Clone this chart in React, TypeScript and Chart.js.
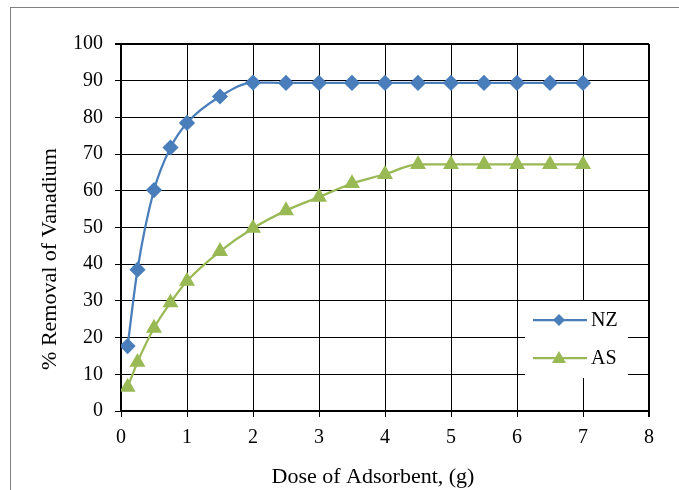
import React, { useEffect, useRef } from "react";
import { Chart, registerables } from "chart.js";

Chart.register(...registerables);

const doses = [0.1, 0.25, 0.5, 0.75, 1, 1.5, 2, 2.5, 3, 3.5, 4, 4.5, 5, 5.5, 6, 6.5, 7];
const nzRemoval = [17.7, 38.5, 60.2, 71.8, 78.5, 85.7, 89.5, 89.4, 89.4, 89.4, 89.4, 89.4, 89.4, 89.4, 89.4, 89.4, 89.4];
const asRemoval = [6.5, 13.3, 22.6, 29.5, 35.4, 43.5, 49.8, 54.6, 58.3, 62.0, 64.5, 67.2, 67.2, 67.2, 67.2, 67.2, 67.2];
const seriesNames = ["NZ", "AS"];
const xTitle = "Dose of Adsorbent, (g)";
const yTitle = "% Removal of Vanadium";

const NZ_COLOR = "#4A7EBB";
const AS_COLOR = "#98B954";
const FONT = "'Liberation Serif', 'Times New Roman', serif";

const decorPlugin = {
  id: "decor",
  afterDraw(chart: any) {
    const ctx = chart.ctx;
    ctx.save();
    // axis titles
    ctx.fillStyle = "#000";
    ctx.font = `22px ${FONT}`;
    ctx.textAlign = "center";
    ctx.textBaseline = "alphabetic";
    ctx.fillText(xTitle, 373, 483);
    ctx.save();
    ctx.translate(56, 259);
    ctx.rotate(-Math.PI / 2);
    ctx.fillText(yTitle, 0, 0);
    ctx.restore();

    // legend box
    ctx.fillStyle = "#fff";
    ctx.fillRect(525, 301, 103, 77);
    const rows = [
      { name: seriesNames[0], color: NZ_COLOR, y: 320, style: "diamond" },
      { name: seriesNames[1], color: AS_COLOR, y: 358, style: "triangle" },
    ];
    rows.forEach((r) => {
      ctx.strokeStyle = r.color;
      ctx.lineWidth = 2.25;
      ctx.beginPath();
      ctx.moveTo(533, r.y);
      ctx.lineTo(587, r.y);
      ctx.stroke();
      ctx.fillStyle = r.color;
      ctx.beginPath();
      if (r.style === "diamond") {
        ctx.moveTo(559, r.y - 6);
        ctx.lineTo(565, r.y);
        ctx.lineTo(559, r.y + 6);
        ctx.lineTo(553, r.y);
      } else {
        ctx.moveTo(559, r.y - 7);
        ctx.lineTo(566, r.y + 5);
        ctx.lineTo(552, r.y + 5);
      }
      ctx.closePath();
      ctx.fill();
      ctx.fillStyle = "#000";
      ctx.font = `20px ${FONT}`;
      ctx.textAlign = "left";
      ctx.textBaseline = "middle";
      ctx.fillText(r.name, 591, r.y + 1);
    });
    ctx.restore();
  },
};

export default function App() {
  const ref = useRef<HTMLCanvasElement | null>(null);

  useEffect(() => {
    if (!ref.current) return;
    const chart = new Chart(ref.current, {
      type: "scatter",
      data: {
        datasets: [
          {
            label: seriesNames[0],
            data: doses.map((d, i) => ({ x: d, y: nzRemoval[i] })),
            showLine: true,
            borderColor: NZ_COLOR,
            backgroundColor: NZ_COLOR,
            borderWidth: 2.25,
            pointStyle: "rectRot",
            pointRadius: 6.5,
            pointHoverRadius: 6.5,
            cubicInterpolationMode: "monotone",
          },
          {
            label: seriesNames[1],
            data: doses.map((d, i) => ({ x: d, y: asRemoval[i] })),
            showLine: true,
            borderColor: AS_COLOR,
            backgroundColor: AS_COLOR,
            borderWidth: 2.25,
            pointStyle: "triangle",
            pointRadius: 7,
            pointHoverRadius: 7,
            cubicInterpolationMode: "monotone",
          },
        ],
      },
      options: {
        animation: false,
        responsive: false,
        events: [],
        layout: { padding: { top: 44, right: 30, left: 0, bottom: 0 } },
        plugins: { legend: { display: false }, tooltip: { enabled: false } },
        scales: {
          x: {
            type: "linear",
            min: 0,
            max: 8,
            afterFit: (s: any) => {
              s.height = 79;
            },
            ticks: {
              stepSize: 1,
              color: "#000",
              font: { family: FONT, size: 20 },
              padding: 9,
            },
            grid: {
              color: "#000",
              lineWidth: (c: any) => (c.tick && c.tick.value === 8 ? 2 : 1),
              tickLength: 6,
            },
            border: { color: "#000", width: 2 },
          },
          y: {
            min: 0,
            max: 100,
            afterFit: (s: any) => {
              s.width = 121;
            },
            ticks: {
              stepSize: 10,
              color: "#000",
              font: { family: FONT, size: 20 },
              padding: 12,
            },
            grid: {
              color: "#000",
              lineWidth: (c: any) => (c.tick && c.tick.value === 100 ? 2 : 1),
              tickLength: 6,
            },
            border: { color: "#000", width: 2 },
          },
        },
      },
      plugins: [decorPlugin],
    });
    return () => chart.destroy();
  }, []);

  return (
    <div style={{ position: "fixed", left: 0, top: 0, width: 679, height: 490, background: "#fff" }}>
      <div
        style={{
          position: "absolute",
          left: 10,
          top: 7,
          width: 700,
          height: 520,
          border: "1px solid #808080",
          boxSizing: "border-box",
        }}
      />
      <canvas ref={ref} width={679} height={490} style={{ position: "absolute", left: 0, top: 0 }} />
    </div>
  );
}
